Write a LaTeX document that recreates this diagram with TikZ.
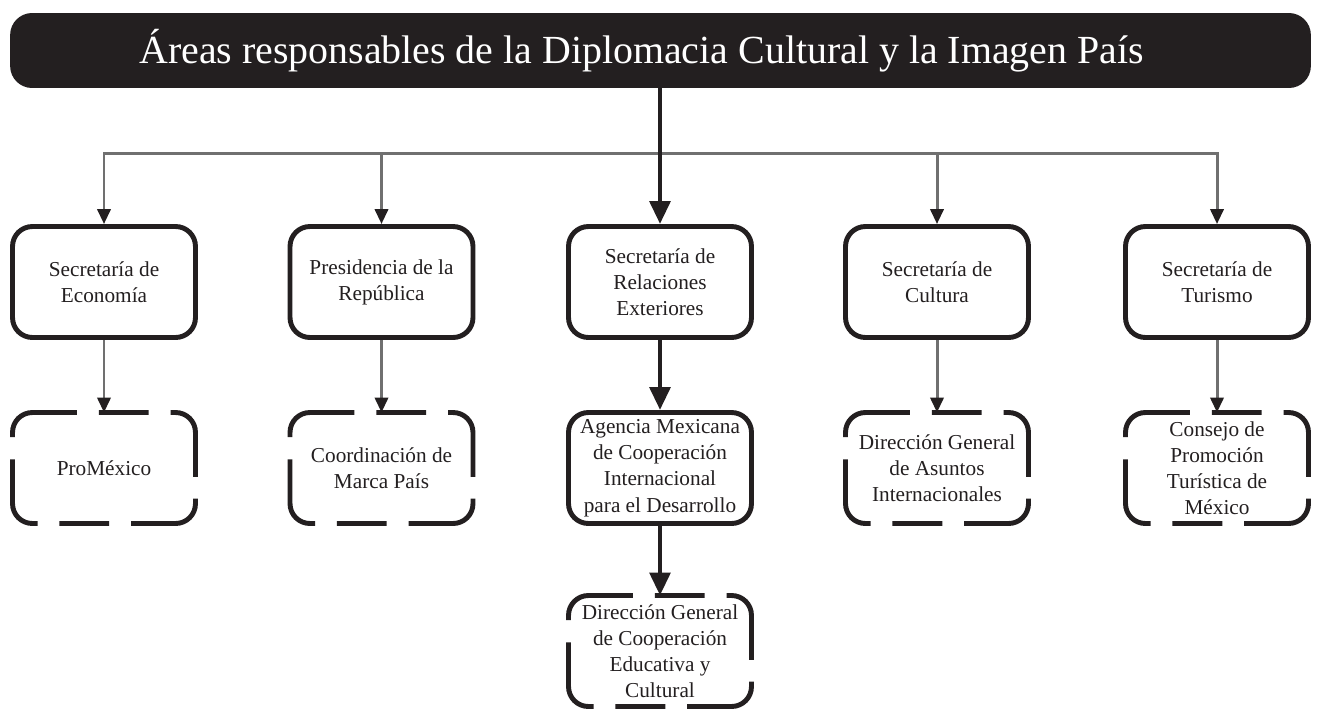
\documentclass[tikz,border=0pt]{standalone}
\usepackage{fontspec}
\setmainfont{Liberation Serif}
\usetikzlibrary{arrows.meta}
\pgfdeclarelayer{edgelayer}
\pgfdeclarelayer{nodelayer}
\pgfsetlayers{edgelayer,nodelayer,main}
\definecolor{ink}{HTML}{231F20}
\definecolor{feed}{HTML}{707070}
\tikzstyle{header}=[rectangle, rounded corners=12.5pt, fill=ink, text=white, minimum width=26.02cm, minimum height=1.5cm, font=\fontsize{22.7}{26}\selectfont]
\tikzstyle{office}=[rectangle, rounded corners=11.3pt, draw=ink, line width=2.8pt, fill=white, minimum width=3.66cm, minimum height=2.22cm, inner sep=0pt, align=center, text=ink, font=\fontsize{12.1}{14.9}\selectfont]
\tikzstyle{unit}=[office, draw=none, fill=none, outer sep=0pt]
\tikzstyle{dashline}=[draw=ink, line width=2.8pt, rounded corners=11.3pt, dash pattern=on 45.86pt off 12.47pt on 28.35pt off 12.47pt on 45.86pt off 12.47pt, dash phase=151.25pt]
\tikzstyle{feeder}=[draw=feed, line width=1.7pt, -{Triangle[length=8.5pt,width=7.5pt,color=ink]}]
\tikzstyle{busline}=[draw=feed, line width=1.7pt, {Triangle[length=8.5pt,width=7.5pt,color=ink]}-{Triangle[length=8.5pt,width=7.5pt,color=ink]}]
\tikzstyle{trunk}=[draw=ink, line width=2.8pt, -{Triangle[length=13pt,width=11.5pt]}]

\begin{document}
\begin{tikzpicture}[x=0.02cm, y=-0.02cm]
	\useasboundingbox (0,0) rectangle (1319,721);
	\begin{pgfonlayer}{nodelayer}
		\node [style=header] (0) at (660.5, 50.5) {\kern-21.6pt Áreas responsables de la Diplomacia Cultural y la Imagen País};
		\node [style=office] (1) at (104, 282) {Secretaría de\\Economía};
		\node [style=office] (2) at (381.5, 282) {Presidencia de la\\República};
		\node [style=office] (3) at (660, 282) {Secretaría de\\Relaciones\\Exteriores};
		\node [style=office] (4) at (937, 282) {Secretaría de\\Cultura};
		\node [style=office] (5) at (1217, 282) {Secretaría de\\Turismo};
		\node [style=unit] (6) at (104, 468) {ProMéxico};
		\node [style=unit] (7) at (381.5, 468) {Coordinación de\\Marca País};
		\node [style=office] (8) at (660, 468) {Agencia Mexicana\\de Cooperación\\Internacional\\para el Desarrollo};
		\node [style=unit] (9) at (937, 468) {Dirección General\\de Asuntos\\Internacionales};
		\node [style=unit] (10) at (1217, 468) {Consejo de\\Promoción\\Turística de\\México};
		\node [style=unit] (11) at (660, 651) {Dirección General\\de Cooperación\\Educativa y\\Cultural};
		\foreach \n in {6,7,9,10,11}
			\draw [style=dashline] (\n.west) |- (\n.north east) |- (\n.south west) -- cycle;
	\end{pgfonlayer}
	\begin{pgfonlayer}{edgelayer}
		\coordinate (bus) at (660, 153);
		\draw [style=busline] (1.north) -- (1.north |- bus) -- (5.north |- bus) -- (5.north);
		\draw [style=feeder] (2.north |- bus) -- (2.north);
		\draw [style=feeder] (4.north |- bus) -- (4.north);
		\draw [style=trunk] (0.south -| 3.north) -- (3.north);
		\draw [style=feeder] (1) to (6);
		\draw [style=feeder] (2) to (7);
		\draw [style=trunk] (3) to (8);
		\draw [style=feeder] (4) to (9);
		\draw [style=feeder] (5) to (10);
		\draw [style=trunk] (8) to (11);
	\end{pgfonlayer}
\end{tikzpicture}
\end{document}
